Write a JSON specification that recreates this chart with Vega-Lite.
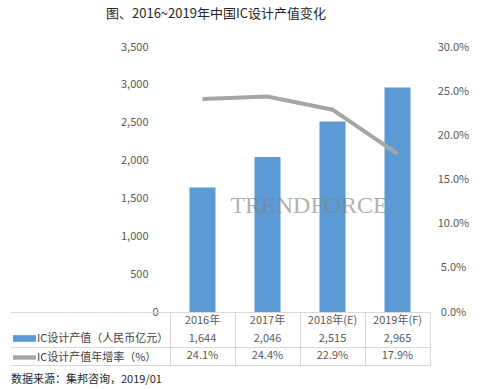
{
  "$schema": "https://vega.github.io/schema/vega-lite/v6.json",
  "padding": {"left": 9, "top": 8, "right": 5, "bottom": 5},
  "background": "white",
  "title": {"text": "图、2016~2019年中国IC设计产值变化", "font": "Noto Sans CJK SC", "fontSize": 13, "fontWeight": "normal", "color": "#262626", "anchor": "start", "frame": "group", "dx": -64, "offset": 20},
  "datasets": {
    "main": [
      {"year": "2016年", "value": 1644, "rate": 0.241},
      {"year": "2017年", "value": 2046, "rate": 0.244},
      {"year": "2018年(E)", "value": 2515, "rate": 0.229},
      {"year": "2019年(F)", "value": 2965, "rate": 0.179}
    ],
    "series": [
      {"series": "IC设计产值（人民币亿元）"},
      {"series": "IC设计产值年增率（%）"}
    ],
    "mark": [{"label": "TRENDFORCE"}]
  },
  "spacing": 0,
  "bounds": "flush",
  "config": {"view": {"stroke": null}, "font": "Noto Sans CJK SC"},
  "vconcat": [
    {
      "width": 260,
      "height": 265,
      "layer": [
        {
          "layer": [
            {
              "data": {"name": "main"},
              "mark": {"type": "bar", "color": "#5B9BD5"},
              "encoding": {
                "x": {"field": "year", "type": "nominal", "sort": null, "scale": {"paddingInner": 0.6, "paddingOuter": 0.3}, "axis": null},
                "y": {"field": "value", "type": "quantitative", "scale": {"domain": [0, 3500]},
                  "axis": {"orient": "left", "values": [0, 500, 1000, 1500, 2000, 2500, 3000, 3500], "labelExpr": "format(datum.value, ',')", "domain": false, "ticks": false, "grid": false, "title": null,
                    "labelPadding": {"condition": {"test": "datum.value == 0", "value": 12}, "value": 22},
                    "labelFontSize": 11, "labelColor": "#595959", "labelFont": "Noto Sans CJK SC"}}
              }
            },
            {
              "data": {"name": "mark"},
              "mark": {"type": "text", "font": "Liberation Serif", "fontSize": 24, "color": "#7F7F7F", "opacity": 0.6, "align": "center", "baseline": "middle"},
              "encoding": {
                "x": {"datum": "2017年", "bandPosition": 2.1, "axis": null},
                "y": {"datum": 1400, "type": "quantitative",
                  "axis": {"orient": "left", "values": [0, 500, 1000, 1500, 2000, 2500, 3000, 3500], "labelExpr": "format(datum.value, ',')", "domain": false, "ticks": false, "grid": false, "title": null,
                    "labelPadding": {"condition": {"test": "datum.value == 0", "value": 12}, "value": 22},
                    "labelFontSize": 11, "labelColor": "#595959", "labelFont": "Noto Sans CJK SC"}},
                "text": {"field": "label"}
              }
            }
          ]
        },
        {
          "data": {"name": "main"},
          "mark": {"type": "line", "color": "#A5A5A5", "strokeWidth": 4},
          "encoding": {
            "x": {"field": "year", "type": "nominal", "sort": null, "axis": null},
            "y": {"field": "rate", "type": "quantitative", "scale": {"domain": [0, 0.3]},
              "axis": {"orient": "right", "values": [0, 0.05, 0.1, 0.15, 0.2, 0.25, 0.3], "format": ".1%", "domain": false, "ticks": false, "grid": false, "title": null,
                "labelAlign": "center", "labelPadding": 23, "labelFontSize": 11, "labelColor": "#595959", "labelFont": "Noto Sans CJK SC"}}
          }
        }
      ],
      "resolve": {"scale": {"y": "independent"}}
    },
    {
      "width": 260,
      "height": 53,
      "title": {"text": "数据来源：集邦咨询，2019/01", "orient": "bottom", "anchor": "start", "frame": "group", "dx": -159, "offset": 8, "fontSize": 11, "fontWeight": "normal", "color": "#262626", "font": "Noto Sans CJK SC"},
      "layer": [
        {
          "data": {"name": "main"},
          "mark": {"type": "text", "fontSize": 11, "color": "#595959"},
          "encoding": {
            "x": {"field": "year", "type": "nominal", "sort": null, "scale": {"paddingInner": 0, "paddingOuter": 0},
              "axis": {"orient": "top", "grid": true, "tickBand": "extent", "gridColor": "#D9D9D9", "labels": false, "ticks": false, "domain": false, "title": null}},
            "y": {"datum": "h", "type": "nominal", "scale": {"domain": ["h", "v", "r"], "paddingInner": 0, "paddingOuter": 0},
              "axis": {"orient": "left", "labels": false, "domain": false, "grid": true, "tickBand": "extent", "title": null,
                "gridColor": {"condition": {"test": "datum.value == 'h'", "value": "transparent"}, "value": "#D9D9D9"},
                "ticks": true, "tickSize": 160,
                "tickColor": {"condition": {"test": "datum.value == 'h'", "value": "transparent"}, "value": "#D9D9D9"}}},
            "text": {"field": "year"}
          }
        },
        {
          "data": {"name": "main"},
          "mark": {"type": "text", "fontSize": 11, "color": "#595959"},
          "encoding": {
            "x": {"field": "year", "type": "nominal", "sort": null},
            "y": {"datum": "v", "type": "nominal"},
            "text": {"field": "value", "format": ","}
          }
        },
        {
          "data": {"name": "main"},
          "mark": {"type": "text", "fontSize": 11, "color": "#595959"},
          "encoding": {
            "x": {"field": "year", "type": "nominal", "sort": null},
            "y": {"datum": "r", "type": "nominal"},
            "text": {"field": "rate", "format": ".1%"}
          }
        },
        {
          "data": {"name": "series"},
          "mark": {"type": "point", "filled": true, "size": 0, "strokeWidth": 0},
          "encoding": {
            "fill": {"field": "series", "type": "nominal", "sort": null,
              "scale": {"domain": ["IC设计产值（人民币亿元）", "IC设计产值年增率（%）"], "range": ["#5B9BD5", "#A5A5A5"]},
              "legend": {"orient": "none", "legendX": -157, "legendY": 280, "title": null, "labelFontSize": 11, "labelColor": "#404040", "labelFont": "Noto Sans CJK SC", "labelLimit": 300, "symbolSize": 529, "symbolOpacity": 1, "symbolStrokeWidth": 0, "labelOffset": 1, "rowPadding": 2, "padding": 0}},
            "shape": {"field": "series", "type": "nominal", "sort": null,
              "scale": {"domain": ["IC设计产值（人民币亿元）", "IC设计产值年增率（%）"], "range": ["M-1,-0.29H1V0.29H-1Z", "M-1,-0.19H1V0.19H-1Z"]},
              "legend": {"orient": "none", "legendX": -157, "legendY": 280, "title": null, "labelFontSize": 11, "labelColor": "#404040", "labelFont": "Noto Sans CJK SC", "labelLimit": 300, "symbolSize": 529, "symbolOpacity": 1, "symbolStrokeWidth": 0, "labelOffset": 1, "rowPadding": 2, "padding": 0}}
          }
        }
      ]
    }
  ]
}
